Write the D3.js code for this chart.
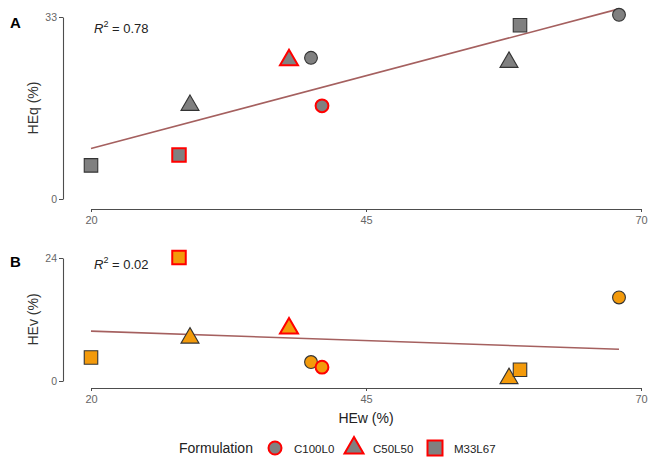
<!DOCTYPE html>
<html>
<head>
<meta charset="utf-8">
<script src="https://cdn.jsdelivr.net/npm/d3@7"></script>
<style>
  html, body { margin: 0; padding: 0; background: #fff; }
  svg { display: block; font-family: "Liberation Sans", Arial, sans-serif; }
</style>
</head>
<body>
<svg id="chart" width="648" height="457"></svg>
<script>
// ---- data ----
const hew = [20, 28, 29, 38, 40, 41, 58, 59, 68];
const formulation = ["M33L67", "M33L67", "C50L50", "C50L50", "C100L0", "C100L0", "C50L50", "M33L67", "C100L0"];
const highlighted = [false, true, false, true, false, true, false, false, false];
const heq = [6.1, 8.0, 17.0, 25.2, 25.6, 16.9, 24.8, 31.5, 33.4];
const hev = [4.6, 24.1, 8.4, 10.3, 3.7, 2.7, 0.5, 2.2, 16.3];
const xTicks = [20, 45, 70];
const yTicksA = [0, 33];
const yTicksB = [0, 24];
const r2Labels = ["0.78", "0.02"];
const panelLabels = ["A", "B"];
const yTitles = ["HEq (%)", "HEv (%)"];
const xTitle = "HEw (%)";
const legendTitle = "Formulation";
const legendLevels = ["C100L0", "C50L50", "M33L67"];

// ---- setup ----
const svg = d3.select("#chart");
const axisColor = "#4d4d4d";
const tickTextColor = "#666666";
const lineColor = "#a5605f";
const x = d3.scaleLinear().domain([20, 70]).range([91, 641]);

function symbolPath(shape, cx, cy, s) {
  if (shape === "C100L0") {
    const r = s.circle;
    return `M${cx - r},${cy}a${r},${r} 0 1,0 ${2 * r},0a${r},${r} 0 1,0 ${-2 * r},0Z`;
  } else if (shape === "C50L50") {
    const w = s.triW / 2, h = s.triH;
    return `M${cx},${cy - h * 2 / 3}L${cx + w},${cy + h / 3}L${cx - w},${cy + h / 3}Z`;
  } else {
    const a = s.sq / 2;
    return `M${cx - a},${cy - a}h${2 * a}v${2 * a}h${-2 * a}Z`;
  }
}

function regression(xs, ys) {
  const mx = d3.mean(xs), my = d3.mean(ys);
  let sxy = 0, sxx = 0;
  xs.forEach((v, i) => { sxy += (v - mx) * (ys[i] - my); sxx += (v - mx) * (v - mx); });
  const b = sxy / sxx;
  return { a: my - b * mx, b };
}

function drawPanel(opt) {
  const g = svg.append("g");
  const y = d3.scaleLinear().domain([0, d3.max(opt.yTicks)]).range(opt.yRange);

  // y axis (range frame)
  const yAxis = d3.axisLeft(y).tickValues(opt.yTicks).tickSize(4).tickPadding(2).tickSizeOuter(0);
  const ya = g.append("g").attr("transform", `translate(63,0)`).call(yAxis);
  ya.select(".domain").attr("stroke", axisColor).attr("stroke-width", 1.1);
  ya.selectAll(".tick line").attr("stroke", axisColor);
  ya.selectAll(".tick text").attr("fill", tickTextColor).style("font-size", "10.5px")
    .style("font-family", "Liberation Sans, Arial, sans-serif");

  // x axis (range frame)
  const xAxis = d3.axisBottom(x).tickValues(xTicks).tickSize(3).tickPadding(4).tickSizeOuter(0);
  const xa = g.append("g").attr("transform", `translate(0,${opt.xAxisY})`).call(xAxis);
  xa.select(".domain").attr("stroke", axisColor).attr("stroke-width", 1.1);
  xa.selectAll(".tick line").attr("stroke", axisColor);
  xa.selectAll(".tick text").attr("fill", tickTextColor).style("font-size", "11px")
    .style("font-family", "Liberation Sans, Arial, sans-serif");

  // regression line
  const ys = opt.values;
  const reg = regression(hew, ys);
  const x0 = d3.min(hew), x1 = d3.max(hew);
  g.append("line")
    .attr("x1", x(x0)).attr("y1", y(reg.a + reg.b * x0))
    .attr("x2", x(x1)).attr("y2", y(reg.a + reg.b * x1))
    .attr("stroke", lineColor).attr("stroke-width", 1.6);

  // points
  const sizes = { circle: 6.4, triW: 18, triH: 15.5, sq: 13.5 };
  hew.forEach((hv, i) => {
    g.append("path")
      .attr("d", symbolPath(formulation[i], x(hv), y(ys[i]), sizes))
      .attr("fill", opt.fill)
      .attr("stroke", highlighted[i] ? "#ff0000" : "#333333")
      .attr("stroke-width", highlighted[i] ? 2 : 1.1)
      .attr("stroke-linejoin", "miter");
  });

  // R^2 annotation
  const t = g.append("text").attr("x", 94).attr("y", opt.r2Y)
    .style("font-size", "13px").attr("fill", "#222");
  t.append("tspan").style("font-style", "italic").text("R");
  t.append("tspan").attr("dy", -6).style("font-size", "9px").text("2");
  t.append("tspan").attr("dy", 6).text(" = " + opt.r2);

  // panel label
  g.append("text").attr("x", 10).attr("y", opt.labelY)
    .style("font-size", "15px").style("font-weight", "bold").attr("fill", "#000")
    .text(opt.label);

  // y title
  const yc = (opt.yRange[0] + opt.yRange[1]) / 2;
  g.append("text").attr("transform", `translate(38,${yc}) rotate(-90)`)
    .attr("text-anchor", "middle").style("font-size", "14px").attr("fill", "#333")
    .text(opt.yTitle);
}

drawPanel({ values: heq, yTicks: yTicksA, yRange: [199, 17], xAxisY: 209, fill: "#808080",
  r2: r2Labels[0], r2Y: 33, label: panelLabels[0], labelY: 28, yTitle: yTitles[0] });
drawPanel({ values: hev, yTicks: yTicksB, yRange: [381, 258], xAxisY: 388, fill: "#f39a0b",
  r2: r2Labels[1], r2Y: 269, label: panelLabels[1], labelY: 267, yTitle: yTitles[1] });

// x title
svg.append("text").attr("x", x(45)).attr("y", 423).attr("text-anchor", "middle")
  .style("font-size", "14px").attr("fill", "#222").text(xTitle);

// legend
const lg = svg.append("g");
lg.append("text").attr("x", 179).attr("y", 453).style("font-size", "14px").attr("fill", "#222").text(legendTitle);
const keyX = [275, 354, 435];
const keySizes = { circle: 6.5, triW: 19, triH: 16.5, sq: 15 };
legendLevels.forEach((lev, i) => {
  lg.append("path").attr("d", symbolPath(lev, keyX[i], 448, keySizes))
    .attr("fill", "#808080").attr("stroke", "#ff0000").attr("stroke-width", 2);
  lg.append("text").attr("x", keyX[i] + 19).attr("y", 452.5)
    .style("font-size", "11.5px").attr("fill", "#222").text(lev);
});
</script>
</body>
</html>
